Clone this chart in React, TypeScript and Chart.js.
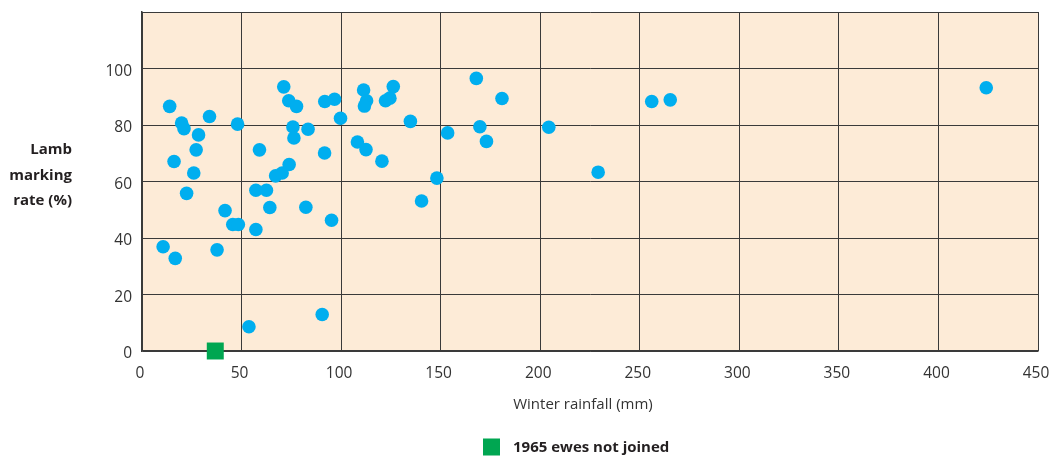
import React, { useEffect, useRef } from "react";
import { Chart, registerables } from "chart.js";

Chart.register(...registerables);

// Winter rainfall (mm) for each year
const rainfall = [
  13.9, 33.9, 19.9, 21.1, 48.0, 28.4, 27.2, 16.1, 26.0, 22.4,
  41.7, 45.6, 48.4, 10.6, 16.7, 37.7, 53.7, 71.2, 73.7, 77.6,
  75.8, 76.3, 83.4, 59.0, 73.9, 67.1, 70.4, 57.2, 62.5, 64.2,
  82.3, 57.2, 91.7, 95.2, 90.5, 91.8, 96.7, 99.7, 111.3, 112.8,
  111.7, 126.2, 122.3, 124.5, 134.8, 108.2, 112.5, 120.5, 140.4, 148.1,
  153.5, 167.9, 180.8, 169.7, 173.0, 204.3, 229.1, 256.0, 265.3, 424.0,
];
// Lamb marking rate (%) for each year
const lambRate = [
  86.6, 83.0, 80.7, 78.7, 80.3, 76.5, 71.2, 67.1, 63.0, 55.8,
  49.7, 44.8, 44.8, 36.9, 32.8, 35.8, 8.6, 93.5, 88.6, 86.6,
  79.3, 75.4, 78.5, 71.2, 66.0, 62.0, 63.0, 56.9, 56.9, 50.8,
  50.9, 43.0, 70.1, 46.3, 12.9, 88.3, 89.1, 82.4, 92.4, 88.6,
  86.7, 93.6, 88.6, 89.5, 81.3, 74.0, 71.3, 67.2, 53.1, 61.2,
  77.2, 96.5, 89.4, 79.4, 74.2, 79.2, 63.3, 88.3, 88.9, 93.2,
];
// 1965: ewes not joined
const notJoinedRainfall = [36.8];
const notJoinedRate = [0];

const xTicks = [0, 50, 100, 150, 200, 250, 300, 350, 400, 450];
const yTicks = [0, 20, 40, 60, 80, 100];
const yMax = 120;

const yTitleLines = ["Lamb", "marking", "rate (%)"];
const xTitle = "Winter rainfall (mm)";
const legendLabel = "1965 ewes not joined";

const FONT = "'Open Sans', 'Noto Sans', sans-serif";
const BG = "#fdebd7";
const DOT = "#00aeef";
const GREEN = "#00a651";
const GRID = "#3a3a3a";
const TEXT = "#333333";

export default function App() {
  const ref = useRef<HTMLCanvasElement>(null);

  useEffect(() => {
    document.body.style.margin = "0";
    const canvas = ref.current;
    if (!canvas) return;

    const decor = {
      id: "decor",
      beforeDraw(chart: any) {
        const { ctx, chartArea } = chart;
        const { left, top, right, bottom } = chartArea;
        ctx.save();
        ctx.fillStyle = BG;
        ctx.fillRect(left, top, right - left, bottom - top);
        ctx.restore();
      },
      afterDraw(chart: any) {
        const { ctx } = chart;
        ctx.save();
        // y-axis title (horizontal, right aligned)
        ctx.fillStyle = "#231f20";
        ctx.font = `bold 15px ${FONT}`;
        ctx.textAlign = "right";
        ctx.textBaseline = "middle";
        const yPos = [150, 176, 201];
        yTitleLines.forEach((line, i) => ctx.fillText(line, 72, yPos[i]));
        // x-axis title
        ctx.font = `15px ${FONT}`;
        ctx.fillStyle = TEXT;
        ctx.textAlign = "center";
        ctx.fillText(xTitle, 583, 405);
        // legend
        const ds = chart.data.datasets[1];
        ctx.fillStyle = ds.backgroundColor;
        ctx.fillRect(483, 438.5, 17, 17);
        ctx.fillStyle = "#231f20";
        ctx.font = `bold 15px ${FONT}`;
        ctx.textAlign = "left";
        ctx.fillText(legendLabel, 513, 447.5);
        ctx.restore();
      },
    };

    const chart = new Chart(canvas, {
      type: "scatter",
      data: {
        datasets: [
          {
            label: "Years",
            data: rainfall.map((x, i) => ({ x, y: lambRate[i] })),
            backgroundColor: DOT,
            borderWidth: 0,
            pointRadius: 6.8,
            pointHoverRadius: 6.8,
          },
          {
            label: legendLabel,
            data: notJoinedRainfall.map((x, i) => ({ x, y: notJoinedRate[i] })),
            backgroundColor: GREEN,
            borderWidth: 0,
            pointStyle: "rect",
            pointRadius: 12,
            pointHoverRadius: 12,
            clip: false as any,
          },
        ],
      },
      options: {
        animation: false,
        responsive: false,
        maintainAspectRatio: false,
        layout: { padding: { left: 0, right: 7, top: 10, bottom: 0 } },
        plugins: {
          legend: { display: false },
          tooltip: { enabled: false },
        },
        scales: {
          x: {
            type: "linear",
            min: 0,
            max: 450,
            afterBuildTicks: (s: any) => {
              s.ticks = xTicks.map((v) => ({ value: v }));
            },
            afterFit: (s: any) => {
              s.height = 108;
              s.paddingLeft = 0;
              s.paddingRight = 0;
            },
            grid: { color: GRID, lineWidth: 1, drawTicks: false },
            border: { display: true, color: GRID, width: 1.5 },
            ticks: {
              padding: 13,
              color: TEXT,
              font: { family: FONT, size: 15.5 },
              maxRotation: 0,
              autoSkip: false,
              labelOffset: -2,
            },
          },
          y: {
            type: "linear",
            min: 0,
            max: yMax,
            afterBuildTicks: (s: any) => {
              const t = [...yTicks, yMax];
              s.ticks = t.map((v) => ({ value: v }));
            },
            afterFit: (s: any) => {
              s.width = 142;
              s.paddingTop = 0;
              s.paddingBottom = 0;
            },
            grid: { color: GRID, lineWidth: 1, drawTicks: false },
            border: { display: true, color: GRID, width: 1.5 },
            ticks: {
              padding: 10,
              color: TEXT,
              font: { family: FONT, size: 15.5 },
              labelOffset: 3,
              autoSkip: false,
              callback: (v: any) => (yTicks.includes(Number(v)) ? String(v) : ""),
            },
          },
        },
      },
      plugins: [decor],
    });

    return () => chart.destroy();
  }, []);

  return (
    <div style={{ width: 1050, height: 459, position: "relative" }}>
      <canvas ref={ref} width={1050} height={459} style={{ display: "block" }} />
    </div>
  );
}
